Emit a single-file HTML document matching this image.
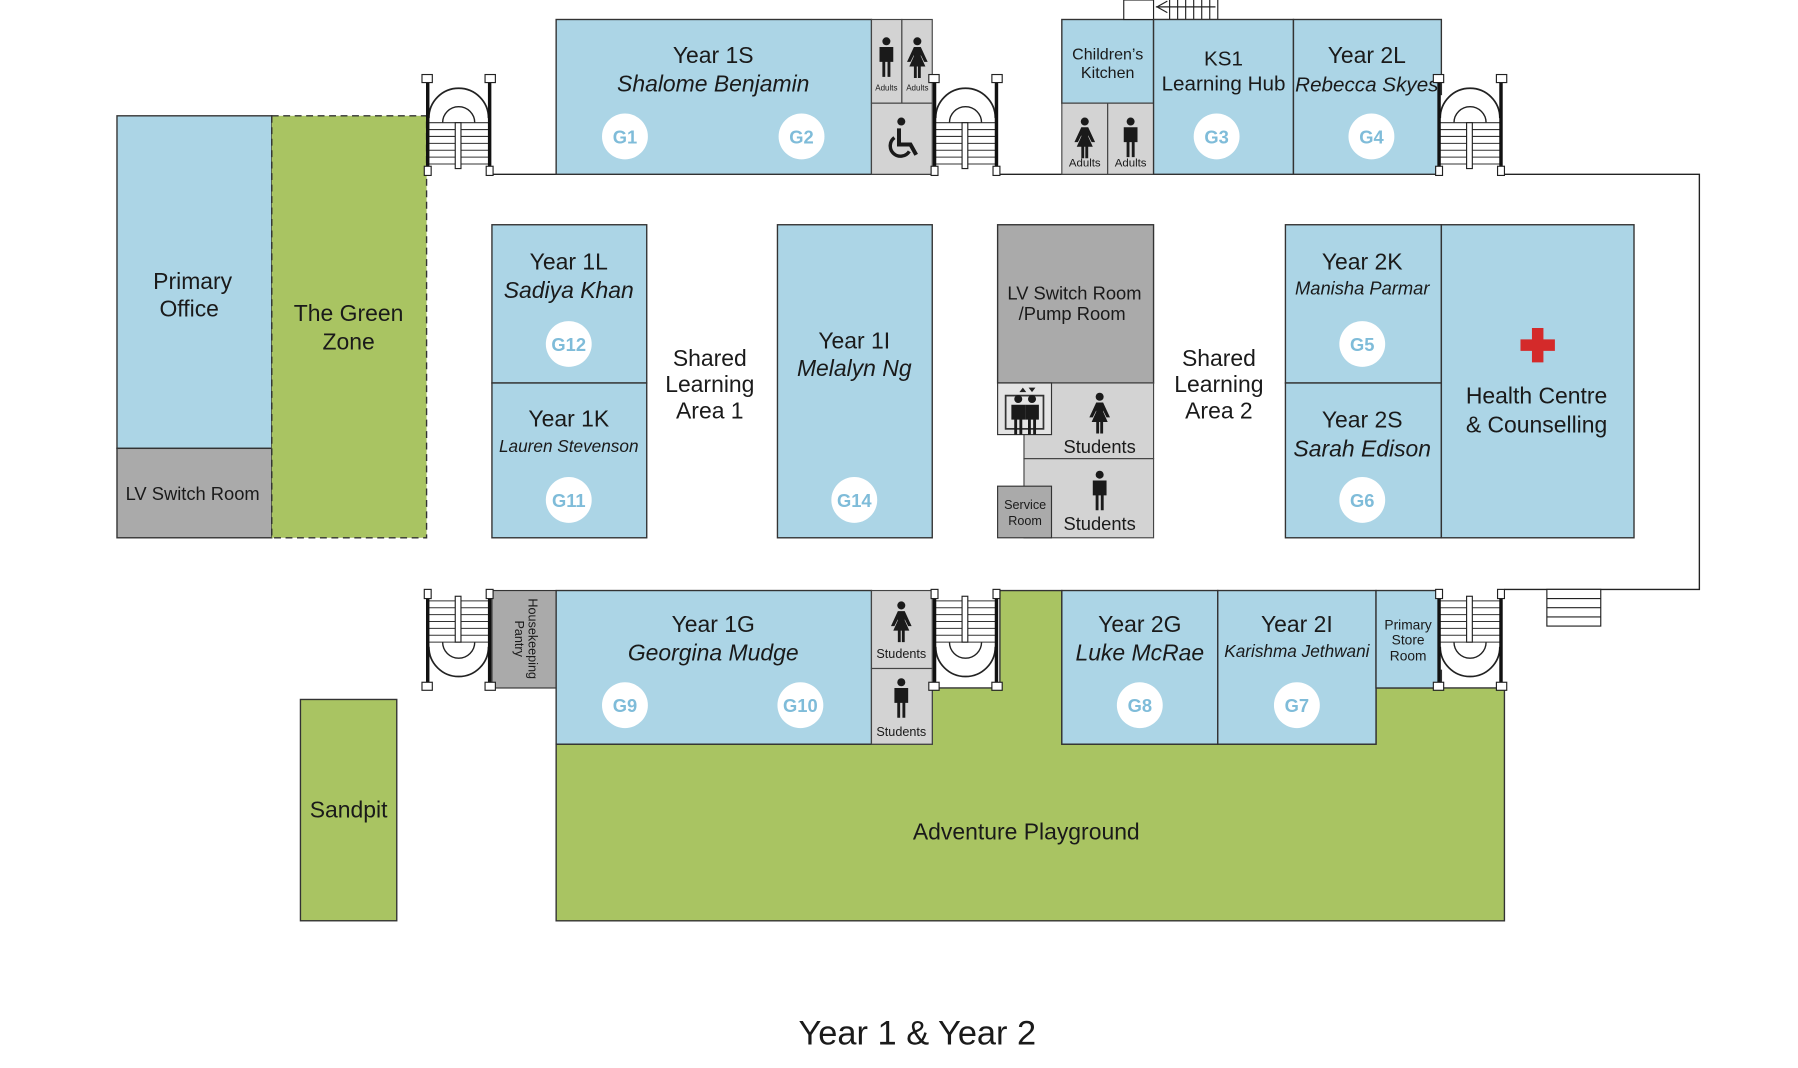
<!DOCTYPE html>
<html><head><meta charset="utf-8"><style>
html,body{margin:0;padding:0;background:#fff}
svg{display:block}
text{font-family:"Liberation Sans",sans-serif;fill:#1a1a1a}
</style></head><body>
<svg width="1798" height="1068" viewBox="0 0 1568 931.4" xmlns="http://www.w3.org/2000/svg">
<defs>
<g id="stairT">
  <rect x="6" y="20" width="56" height="70" fill="#fff"/>
  <path d="M8 40 A26 26 0 0 1 60 40" fill="none" stroke="#222" stroke-width="1.5"/>
  <path d="M20 44 A14 14 0 0 1 48 44" fill="none" stroke="#222" stroke-width="1.2"/>
  <g stroke="#333" stroke-width="0.9">
    <line x1="8" y1="44" x2="60" y2="44"/><line x1="8" y1="50" x2="60" y2="50"/><line x1="8" y1="56" x2="60" y2="56"/>
    <line x1="8" y1="62" x2="60" y2="62"/><line x1="8" y1="68" x2="60" y2="68"/><line x1="8" y1="74" x2="60" y2="74"/><line x1="8" y1="80" x2="60" y2="80"/>
  </g>
  <rect x="31" y="44" width="5" height="40" fill="#fff" stroke="#222"/>
  <line x1="7" y1="8" x2="7" y2="90" stroke="#111" stroke-width="3"/>
  <line x1="61" y1="8" x2="61" y2="90" stroke="#111" stroke-width="3"/>
  <rect x="2" y="2" width="9" height="7" fill="#fff" stroke="#222"/>
  <rect x="57" y="2" width="9" height="7" fill="#fff" stroke="#222"/>
  <rect x="4" y="82" width="6" height="8" fill="#fff" stroke="#222"/>
  <rect x="58" y="82" width="6" height="8" fill="#fff" stroke="#222"/>
</g>
<g id="man"><circle cx="0" cy="-14" r="3.5" fill="#1a1a1a"/><path d="M-6 -9 h12 v13 h-2.5 v13 h-2.5 v-13 h-2 v13 h-2.5 v-13 h-2.5z" fill="#1a1a1a"/></g>
<g id="woman"><circle cx="0" cy="-14" r="3.5" fill="#1a1a1a"/><path d="M-3 -9 h6 l6 13 h-3 l-3 -6 v1 l4 9 h-4 v10 h-2.5 v-10 h-1 v10 h-2.5 v-10 h-4 l4 -9 v-1 l-3 6 h-3z" fill="#1a1a1a"/></g>
</defs>

<!-- corridor outline -->
<polyline points="372,152 1482,152 1482,514 1312,514" fill="none" stroke="#222" stroke-width="1.2"/>
<rect x="1349" y="514" width="47" height="32" fill="#fff" stroke="#222"/>
<line x1="1349" y1="522" x2="1396" y2="522" stroke="#222"/><line x1="1349" y1="530" x2="1396" y2="530" stroke="#222"/><line x1="1349" y1="538" x2="1396" y2="538" stroke="#222"/>

<!-- left block -->
<rect x="102" y="101" width="135" height="290" fill="#acd5e6" stroke="#333" stroke-width="1.2"/>
<rect x="102" y="391" width="135" height="78" fill="#aaaaaa" stroke="#333" stroke-width="1.2"/>
<rect x="237" y="101" width="135" height="368" fill="#a9c462" stroke="#333" stroke-width="1.2" stroke-dasharray="6,4"/>
<text x="168" y="252" font-size="20" text-anchor="middle">Primary</text>
<text x="165" y="276" font-size="20" text-anchor="middle">Office</text>
<text x="168" y="436" font-size="16" text-anchor="middle">LV Switch Room</text>
<text x="304" y="280" font-size="20" text-anchor="middle">The Green</text>
<text x="304" y="305" font-size="20" text-anchor="middle">Zone</text>

<!-- top row -->
<rect x="485" y="17" width="275" height="135" fill="#acd5e6" stroke="#333" stroke-width="1.2"/>
<text x="622" y="55" font-size="20" text-anchor="middle">Year 1S</text>
<text x="622" y="80" font-size="20" font-style="italic" text-anchor="middle">Shalome Benjamin</text>
<rect x="760" y="17" width="26.5" height="73" fill="#d3d3d3" stroke="#444"/>
<rect x="786.5" y="17" width="26.5" height="73" fill="#d3d3d3" stroke="#444"/>
<rect x="760" y="90" width="53" height="62" fill="#d3d3d3" stroke="#444"/>
<use href="#man" x="773" y="50"/><use href="#woman" x="800" y="50"/>
<text x="773" y="79" font-size="7" text-anchor="middle">Adults</text><text x="800" y="79" font-size="7" text-anchor="middle">Adults</text>
<circle cx="786" cy="106" r="3.5" fill="#1a1a1a"/>
<path d="M784 112 v14 h10 l5 9" fill="none" stroke="#1a1a1a" stroke-width="3.5"/>
<path d="M780 120 a9 9 0 1 0 13 12" fill="none" stroke="#1a1a1a" stroke-width="3"/>

<rect x="926" y="17" width="80" height="73" fill="#acd5e6" stroke="#333" stroke-width="1.2"/>
<rect x="926" y="90" width="40" height="62" fill="#d3d3d3" stroke="#444"/>
<rect x="966" y="90" width="40" height="62" fill="#d3d3d3" stroke="#444"/>
<use href="#woman" x="946" y="120"/><use href="#man" x="986" y="120"/>
<text x="946" y="145" font-size="10" text-anchor="middle">Adults</text><text x="986" y="145" font-size="10" text-anchor="middle">Adults</text>
<text x="966" y="52" font-size="14" text-anchor="middle">Children’s</text>
<text x="966" y="68" font-size="14" text-anchor="middle">Kitchen</text>
<rect x="980" y="0" width="26" height="17" fill="#fff" stroke="#222"/>
<rect x="1006" y="-2" width="56" height="19" fill="#fff" stroke="#222"/>
<g stroke="#222"><line x1="1020" y1="0" x2="1020" y2="17"/><line x1="1027" y1="0" x2="1027" y2="17"/><line x1="1034" y1="0" x2="1034" y2="17"/><line x1="1041" y1="0" x2="1041" y2="17"/><line x1="1048" y1="0" x2="1048" y2="17"/><line x1="1055" y1="0" x2="1055" y2="17"/><line x1="1008" y1="6" x2="1060" y2="6"/><polyline points="1018,1 1009,6 1018,11" fill="none"/></g>
<rect x="1006" y="17" width="122" height="135" fill="#acd5e6" stroke="#333" stroke-width="1.2"/>
<text x="1067" y="57" font-size="18" text-anchor="middle">KS1</text>
<text x="1067" y="79" font-size="18" text-anchor="middle">Learning Hub</text>
<rect x="1128" y="17" width="129" height="135" fill="#acd5e6" stroke="#333" stroke-width="1.2"/>
<text x="1192" y="55" font-size="20" text-anchor="middle">Year 2L</text>
<text x="1192" y="80" font-size="18" font-style="italic" text-anchor="middle">Rebecca Skyes</text>

<use href="#stairT" x="366" y="63"/>
<use href="#stairT" x="808" y="63"/>
<use href="#stairT" x="1248" y="63"/>

<!-- middle row -->
<rect x="429" y="196" width="135" height="138" fill="#acd5e6" stroke="#333" stroke-width="1.2"/>
<rect x="429" y="334" width="135" height="135" fill="#acd5e6" stroke="#333" stroke-width="1.2"/>
<text x="496" y="235" font-size="20" text-anchor="middle">Year 1L</text>
<text x="496" y="260" font-size="20" font-style="italic" text-anchor="middle">Sadiya Khan</text>
<text x="496" y="372" font-size="20" text-anchor="middle">Year 1K</text>
<text x="496" y="394" font-size="15" font-style="italic" text-anchor="middle">Lauren Stevenson</text>
<text x="619" y="319" font-size="20" text-anchor="middle">Shared</text>
<text x="619" y="342" font-size="20" text-anchor="middle">Learning</text>
<text x="619" y="365" font-size="20" text-anchor="middle">Area 1</text>
<rect x="678" y="196" width="135" height="273" fill="#acd5e6" stroke="#333" stroke-width="1.2"/>
<text x="745" y="304" font-size="20" text-anchor="middle">Year 1I</text>
<text x="745" y="328" font-size="20" font-style="italic" text-anchor="middle">Melalyn Ng</text>

<rect x="870" y="196" width="136" height="138" fill="#aaaaaa" stroke="#333" stroke-width="1.2"/>
<text x="937" y="261" font-size="16" text-anchor="middle">LV Switch Room</text>
<text x="935" y="279" font-size="16" text-anchor="middle">/Pump Room</text>
<rect x="893" y="334" width="113" height="66" fill="#d3d3d3" stroke="#444"/>
<rect x="893" y="400" width="113" height="69" fill="#d3d3d3" stroke="#444"/>
<rect x="870" y="334" width="47" height="45" fill="#e4e4e4" stroke="#333"/>
<rect x="877" y="345" width="33" height="29" fill="none" stroke="#333" stroke-width="1.5"/>
<use href="#man" x="888" y="362" transform="translate(0,0)"/><use href="#man" x="900" y="362"/>
<path d="M889 342 l3 -4 l3 4z M897 338 l3 4 l3 -4z" fill="#222"/>
<rect x="870" y="424" width="47" height="45" fill="#aaaaaa" stroke="#333"/>
<text x="894" y="444" font-size="11" text-anchor="middle">Service</text>
<text x="894" y="458" font-size="11" text-anchor="middle">Room</text>
<use href="#woman" x="959" y="360"/><use href="#man" x="959" y="428"/>
<text x="959" y="395" font-size="16" text-anchor="middle">Students</text>
<text x="959" y="462" font-size="16" text-anchor="middle">Students</text>
<text x="1063" y="319" font-size="20" text-anchor="middle">Shared</text>
<text x="1063" y="342" font-size="20" text-anchor="middle">Learning</text>
<text x="1063" y="365" font-size="20" text-anchor="middle">Area 2</text>

<rect x="1121" y="196" width="136" height="138" fill="#acd5e6" stroke="#333" stroke-width="1.2"/>
<rect x="1121" y="334" width="136" height="135" fill="#acd5e6" stroke="#333" stroke-width="1.2"/>
<rect x="1257" y="196" width="168" height="273" fill="#acd5e6" stroke="#333" stroke-width="1.2"/>
<text x="1188" y="235" font-size="20" text-anchor="middle">Year 2K</text>
<text x="1188" y="257" font-size="16" font-style="italic" text-anchor="middle">Manisha Parmar</text>
<text x="1188" y="373" font-size="20" text-anchor="middle">Year 2S</text>
<text x="1188" y="398" font-size="20" font-style="italic" text-anchor="middle">Sarah Edison</text>
<path d="M1336 286 h10 v10 h10 v10 h-10 v10 h-10 v-10 h-10 v-10 h10z" fill="#d42a2a"/>
<text x="1340" y="352" font-size="20" text-anchor="middle">Health Centre</text>
<text x="1340" y="377" font-size="20" text-anchor="middle">&amp; Counselling</text>

<!-- bottom -->
<path d="M872 515 H926 V649 H1200 V600 H1312 V803 H485 V649 H813 V600 H872 Z" fill="#a9c462" stroke="#333" stroke-width="1.2"/>
<text x="895" y="732" font-size="20" text-anchor="middle">Adventure Playground</text>
<rect x="262" y="610" width="84" height="193" fill="#a9c462" stroke="#333" stroke-width="1.2"/>
<text x="304" y="713" font-size="20" text-anchor="middle">Sandpit</text>

<rect x="429" y="515" width="56" height="85" fill="#aaaaaa" stroke="#333"/>
<text transform="translate(458,557) rotate(90)" font-size="11" text-anchor="middle"><tspan x="0" y="-3">Housekeeping</tspan><tspan x="0" y="9">Pantry</tspan></text>
<rect x="485" y="515" width="275" height="134" fill="#acd5e6" stroke="#333" stroke-width="1.2"/>
<text x="622" y="551" font-size="20" text-anchor="middle">Year 1G</text>
<text x="622" y="576" font-size="20" font-style="italic" text-anchor="middle">Georgina Mudge</text>
<rect x="760" y="515" width="53" height="68" fill="#d3d3d3" stroke="#444"/>
<rect x="760" y="583" width="53" height="66" fill="#d3d3d3" stroke="#444"/>
<use href="#woman" x="786" y="542"/><use href="#man" x="786" y="609"/>
<text x="786" y="574" font-size="11" text-anchor="middle">Students</text>
<text x="786" y="642" font-size="11" text-anchor="middle">Students</text>

<rect x="926" y="515" width="136" height="134" fill="#acd5e6" stroke="#333" stroke-width="1.2"/>
<rect x="1062" y="515" width="138" height="134" fill="#acd5e6" stroke="#333" stroke-width="1.2"/>
<rect x="1200" y="515" width="57" height="85" fill="#acd5e6" stroke="#333" stroke-width="1.2"/>
<text x="994" y="551" font-size="20" text-anchor="middle">Year 2G</text>
<text x="994" y="576" font-size="20" font-style="italic" text-anchor="middle">Luke McRae</text>
<text x="1131" y="551" font-size="20" text-anchor="middle">Year 2I</text>
<text x="1131" y="573" font-size="15" font-style="italic" text-anchor="middle">Karishma Jethwani</text>
<text x="1228" y="549" font-size="12" text-anchor="middle">Primary</text>
<text x="1228" y="562" font-size="12" text-anchor="middle">Store</text>
<text x="1228" y="576" font-size="12" text-anchor="middle">Room</text>

<use href="#stairT" transform="translate(366,604) scale(1,-1)"/>
<use href="#stairT" transform="translate(808,604) scale(1,-1)"/>
<use href="#stairT" transform="translate(1248,604) scale(1,-1)"/>

<!-- room number circles -->
<g font-size="16" font-weight="bold" text-anchor="middle">
<circle cx="545" cy="119" r="20" fill="#fff"/><text x="545" y="125" style="fill:#7fbcd9">G1</text>
<circle cx="699" cy="119" r="20" fill="#fff"/><text x="699" y="125" style="fill:#7fbcd9">G2</text>
<circle cx="1061" cy="119" r="20" fill="#fff"/><text x="1061" y="125" style="fill:#7fbcd9">G3</text>
<circle cx="1196" cy="119" r="20" fill="#fff"/><text x="1196" y="125" style="fill:#7fbcd9">G4</text>
<circle cx="496" cy="300" r="20" fill="#fff"/><text x="496" y="306" style="fill:#7fbcd9">G12</text>
<circle cx="496" cy="436" r="20" fill="#fff"/><text x="496" y="442" style="fill:#7fbcd9">G11</text>
<circle cx="745" cy="436" r="20" fill="#fff"/><text x="745" y="442" style="fill:#7fbcd9">G14</text>
<circle cx="1188" cy="300" r="20" fill="#fff"/><text x="1188" y="306" style="fill:#7fbcd9">G5</text>
<circle cx="1188" cy="436" r="20" fill="#fff"/><text x="1188" y="442" style="fill:#7fbcd9">G6</text>
<circle cx="545" cy="615" r="20" fill="#fff"/><text x="545" y="621" style="fill:#7fbcd9">G9</text>
<circle cx="698" cy="615" r="20" fill="#fff"/><text x="698" y="621" style="fill:#7fbcd9">G10</text>
<circle cx="994" cy="615" r="20" fill="#fff"/><text x="994" y="621" style="fill:#7fbcd9">G8</text>
<circle cx="1131" cy="615" r="20" fill="#fff"/><text x="1131" y="621" style="fill:#7fbcd9">G7</text>
</g>

<text x="800" y="911" font-size="30" text-anchor="middle">Year 1 &amp; Year 2</text>
</svg>
</body></html>
